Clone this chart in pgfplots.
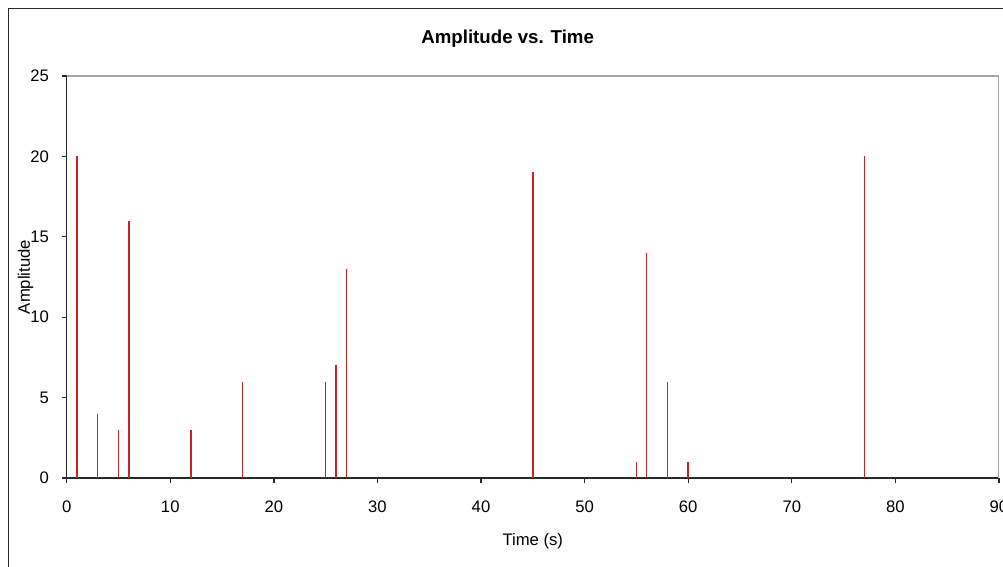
\documentclass[border=0pt]{standalone}
\usepackage{fontspec}
\setmainfont{Liberation Sans}
\usepackage{pgfplots}
\pgfplotsset{compat=1.18}
\definecolor{stemred}{RGB}{200,35,35}
\definecolor{axgray}{RGB}{40,40,40}
\begin{document}
\begin{tikzpicture}[x=0.75pt,y=0.75pt]
\useasboundingbox (0,0) rectangle (1003,567);
% chart area border (left and top visible)
\draw[axgray, line width=1.2pt] (8.5,-5) -- (8.5,558.5) -- (1010,558.5);
\begin{axis}[
    at={(50.0pt,66.75pt)}, anchor=south west,
    scale only axis,
    width=699.2pt, height=301.5pt,
    xmin=0, xmax=90, ymin=0, ymax=25,
    xtick={0,10,...,90}, ytick={0,5,...,25},
    axis lines*=left,
    axis line style={axgray, line width=1.1pt},
    tick align=outside,
    major tick length=3.75pt,
    tick style={axgray, line width=1pt},
    /pgf/number format/assume math mode=true,
    ticklabel style={font=\fontsize{12.5}{14}\selectfont},
    xticklabel style={anchor=north, yshift=-10pt},
    yticklabel style={anchor=east, xshift=-6pt},
    xlabel={Time (s)},
    ylabel={Amplitude},
    label style={font=\fontsize{12.5}{14}\selectfont},
    xlabel style={at={(axis description cs:0.5,-0.158)}, anchor=center},
    ylabel style={at={(axis description cs:-0.044,0.5)}, anchor=center},
    title={Amplitude vs. Time},
    title style={at={(axis description cs:0.473,1.072)}, anchor=center, font=\fontsize{14}{16}\selectfont\bfseries},
    clip=false,
]
\draw[gray!70, line width=0.8pt] (rel axis cs:0,1) -- (rel axis cs:1,1) -- (rel axis cs:1,0);
\addplot[ycomb, stemred, line width=1.1pt, mark=none] coordinates {
    (1,20) (3,4) (5,3) (6,16) (12,3) (17,6) (25,6) (26,7) (27,13)
    (45,19) (55,1) (56,14) (58,6) (60,1) (77,20)
};
\end{axis}
\end{tikzpicture}
\end{document}
